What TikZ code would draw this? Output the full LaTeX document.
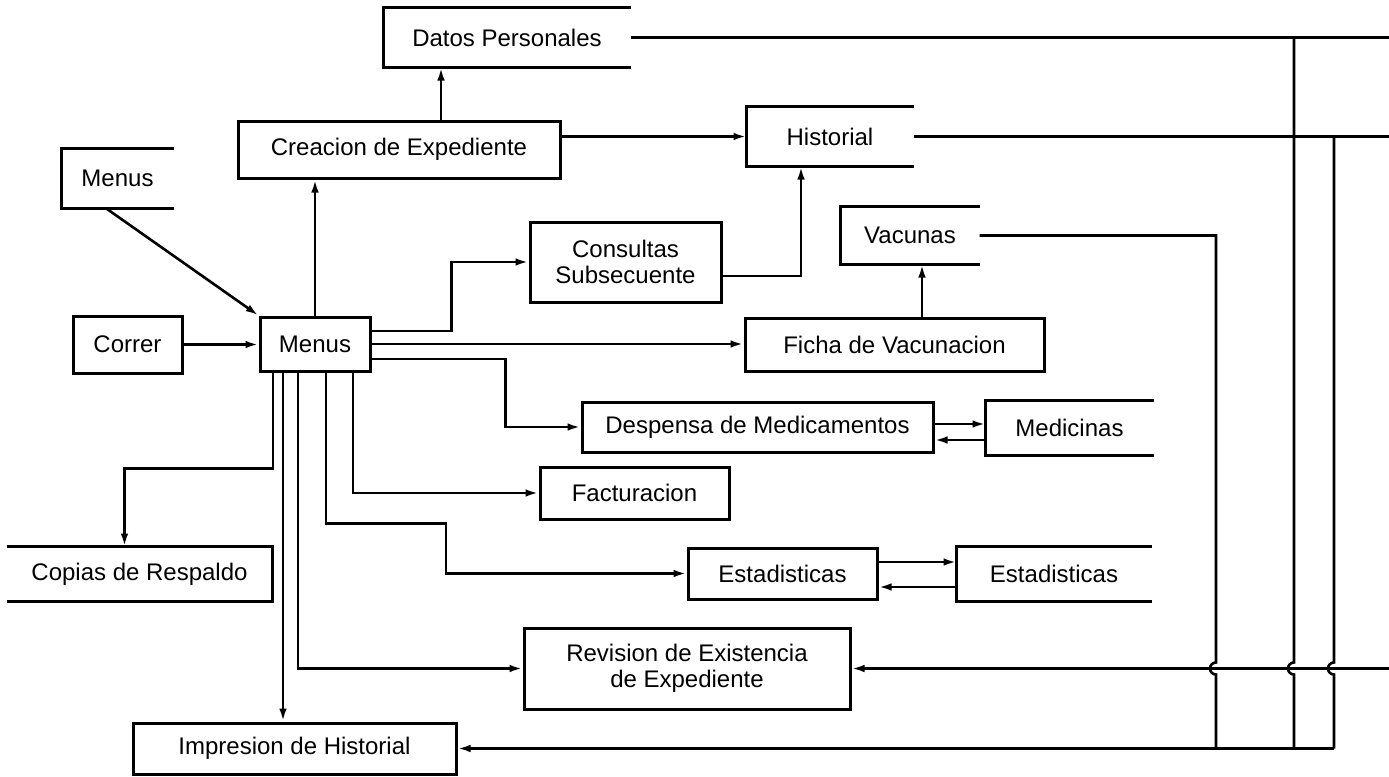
\documentclass[tikz,border=0pt]{standalone}
\usepackage{fontspec}
\setmainfont{Liberation Sans}
\usetikzlibrary{calc}
\usetikzlibrary{arrows.meta}
\tikzstyle{every node}=[line width=1.5pt]
\tikzset{>={Latex[width=3.8pt,length=6.5pt]}}

\begin{document}
\begin{tikzpicture}[x=0.5pt, y=-0.5pt, line width=1.3pt, font=\fontsize{12}{13}\selectfont]
    \tikzstyle{pnode} = [draw, rectangle, inner sep = 2pt, align=center]
    \tikzstyle{snode} = [rectangle, inner sep = 2pt, align=center]

    \useasboundingbox (0,0) rectangle (1389,777);

    % processes
    \node[pnode, minimum width=161pt, minimum height=28.5pt] (creaExp) at (399,149.5) {Creacion de Expediente};
    \node[pnode, minimum width=54.5pt, minimum height=28.5pt] (correr) at (127.5,344.5) {Correr};
    \node[pnode, minimum width=55pt, minimum height=27pt] (menus) at (315,344) {Menus};
    \node[pnode, minimum width=95.5pt, minimum height=40pt] (consult) at (625.5,262) {Consultas\\Subsecuente};
    \node[pnode, minimum width=149.5pt, minimum height=26.5pt] (ficha) at (894.5,344.5) {Ficha de Vacunacion};
    \node[pnode, minimum width=175.5pt, minimum height=25pt] (desp) at (757.5,427) {Despensa de Medicamentos};
    \node[pnode, minimum width=94.5pt, minimum height=26pt] (fact) at (634.5,493) {Facturacion};
    \node[pnode, minimum width=94.5pt, minimum height=25.5pt] (estad) at (782.5,573.5) {Estadisticas};
    \node[pnode, minimum width=163pt, minimum height=40.5pt] (revExp) at (687,668.5) {Revision de Existencia\\de Expediente};
    \node[pnode, minimum width=161.5pt, minimum height=25.5pt] (impHist) at (294.5,748.5) {Impresion de Historial};

    % data stores
    \node[snode, minimum width=122pt, minimum height=28.5pt] (dataPers) at (507,37.5) {Datos Personales};
    \node[snode, minimum width=54.5pt, minimum height=28.5pt] (menuStore) at (117.5,178.5) {Menus};
    \node[snode, minimum width=82pt, minimum height=28.5pt] (hist) at (830,136.5) {Historial};
    \node[snode, minimum width=68pt, minimum height=27.5pt] (vacStore) at (910,235.5) {Vacunas};
    \node[snode, minimum width=82.5pt, minimum height=26pt] (medStore) at (1069.5,428) {Medicinas};
    \node[snode, minimum width=96pt, minimum height=26pt] (estadStore) at (1054,574) {Estadisticas};
    \node[snode, minimum width=131.5pt, minimum height=26pt] (copias) at (139.5,574) {Copias de Respaldo};

    \foreach \s in {dataPers,menuStore,hist,vacStore,medStore,estadStore}
      \draw[line width=1.5pt] (\s.north east) -- (\s.north west) -- (\s.south west) -- (\s.south east);
    \draw[line width=1.5pt] (copias.north west) -- (copias.north east) -- (copias.south east) -- (copias.south west);

    % flows out of the menu
    \draw[->] ($(menuStore.south west)!0.4!(menuStore.south east)$) -- (menus.north west);
    \draw[->] (correr.east) -- (correr.east -| menus.west);
    \draw[->] (menus.north) -- (menus.north |- creaExp.south);
    \draw[->] ($(creaExp.north)+(42,0)$) -- ($(dataPers.south)+(-66,0)$);
    \draw[->] (creaExp.east |- hist.west) -- (hist.west);
    \draw[->] ($(menus.east)+(0,-13)$) -- ++(80,0) |- (consult.west);
    \draw[->] ($(consult.east)+(0,14)$) -| ($(hist.south)+(-29,0)$);
    \draw[->] (menus.east) -- (menus.east -| ficha.west);
    \draw[->] ($(ficha.north)+(27.5,0)$) -- ($(vacStore.south)+(12,0)$);
    \draw[->] ($(menus.east)+(0,15)$) -- ++(134,0) |- (desp.west);
    \draw[->] ($(desp.east)+(0,-3)$) -- ($(desp.east -| medStore.west)+(0,-3)$);
    \draw[->] ($(medStore.west)+(0,12)$) -- ($(medStore.west -| desp.east)+(0,12)$);
    \draw[->] ($(menus.south)+(38,0)$) |- (fact.west);
    \draw[->] ($(menus.south)+(11,0)$) -- ++(0,151) -- ++(120,0) |- (estad.west);
    \draw[->] ($(estad.east)+(0,-11.5)$) -- ($(estad.east -| estadStore.west)+(0,-11.5)$);
    \draw[->] ($(estadStore.west)+(0,13)$) -- ($(estadStore.west -| estad.east)+(0,13)$);
    \draw[->] ($(menus.south)+(-42,0)$) -- ++(0,96) -| ($(copias.north)+(-15,0)$);
    \draw[->] ($(menus.south)+(-32,0)$) -- ($(impHist.north)+(-11.5,0)$);
    \draw[->] ($(menus.south)+(-17,0)$) |- (revExp.west);

    % stores back to printing
    \coordinate (rEdge) at (1389,0);
    \coordinate (vJ) at (1216,748.5);
    \coordinate (dJ) at (1294,748.5);
    \coordinate (hJ) at (1334,748.5);

    \draw (dataPers.east) -- (dataPers.east -| rEdge);
    \draw (hist.east) -- (hist.east -| rEdge);
    \draw[->] (revExp.east -| rEdge) -- (revExp.east);
    \draw (vacStore.east) -| ($(vJ |- revExp.east)+(0,-6)$) arc[start angle=270, end angle=90, radius=6] -- (vJ);
    \draw (dataPers.east -| dJ) -- ($(dJ |- revExp.east)+(0,-6)$) arc[start angle=270, end angle=90, radius=6] -- (dJ);
    \draw (hist.east -| hJ) -- ($(hJ |- revExp.east)+(0,-6)$) arc[start angle=270, end angle=90, radius=6] -- (hJ);
    \draw[->] (hJ) -- (impHist.east);
  \end{tikzpicture}
\end{document}
